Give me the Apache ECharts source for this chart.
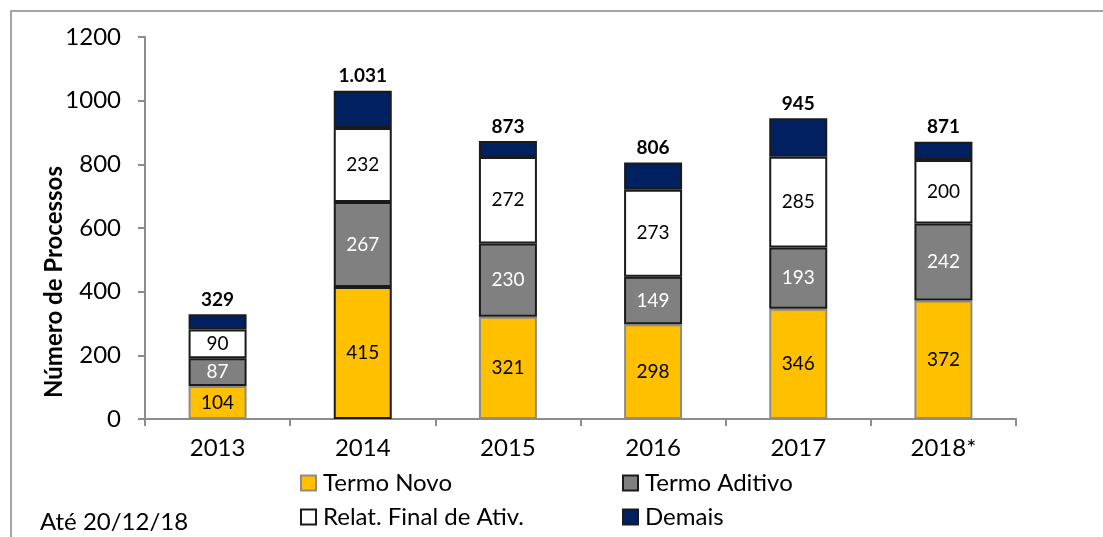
<!DOCTYPE html>
<html>
<head>
<meta charset="utf-8">
<script src="https://cdn.jsdelivr.net/npm/echarts@6/dist/echarts.min.js"></script>
<style>
html,body{margin:0;padding:0;background:#fff;}
#main{width:1103px;height:537px;}
</style>
</head>
<body>
<div id="main"></div>
<script>
var anos = ['2013', '2014', '2015', '2016', '2017', '2018*'];
var termoNovo = [104, 415, 321, 298, 346, 372];
var termoAditivo = [87, 267, 230, 149, 193, 242];
var relatFinal = [90, 232, 272, 273, 285, 200];
var demais = [48, 117, 50, 86, 121, 57];
var totais = [329, 1031, 873, 806, 945, 871];
var yTicks = [0, 200, 400, 600, 800, 1000, 1200];

var fonte = 'Lato';
var corEixo = '#8c8c8c';

//formata com ponto de milhar
function fmtMilhar(v) {
    return String(v).replace(/\B(?=(\d{3})+(?!\d))/g, '.');
}

//borda da barra amarela de 2014 é escura
var novoData = termoNovo.map(function (v, i) {
    return i == 1 ? {value: v, itemStyle: {borderColor: '#1a1a1a'}} : v;
});

var labelDentro = {
    show: true,
    position: 'inside',
    fontFamily: fonte,
    fontSize: 19,
    color: '#000'
};

var myChart = echarts.init(document.getElementById('main'));
var option = {
    animation: false,
    backgroundColor: '#fff',
    grid: {left: 145, right: 87, top: 37, bottom: 118},
    xAxis: {
        type: 'category',
        data: anos,
        axisLine: {lineStyle: {color: corEixo, width: 2}},
        axisTick: {show: true, length: 7, lineStyle: {color: corEixo, width: 2}},
        axisLabel: {fontFamily: fonte, fontSize: 24, color: '#000', margin: 17}
    },
    yAxis: {
        type: 'value',
        min: yTicks[0],
        max: yTicks[yTicks.length - 1],
        interval: 200,
        splitLine: {show: false},
        axisLine: {show: true, lineStyle: {color: corEixo, width: 2}},
        axisTick: {show: true, length: 7, lineStyle: {color: corEixo, width: 2}},
        axisLabel: {
            fontFamily: fonte, fontSize: 24, color: '#000', margin: 24,
            formatter: function (v) { return String(v); }
        }
    },
    legend: [
        {data: ['Termo Novo'], left: 300, top: 471},
        {data: ['Termo Aditivo'], left: 622, top: 471},
        {data: ['Relat. Final de Ativ.'], left: 300, top: 505},
        {data: ['Demais'], left: 622, top: 505}
    ].map(function (l) {
        l.icon = 'rect';
        l.itemWidth = 15;
        l.itemHeight = 15;
        l.itemGap = 0;
        l.padding = 0;
        l.selectedMode = false;
        l.textStyle = {fontFamily: fonte, fontSize: 24, color: '#000', padding: [0, 0, 0, 2]};
        return l;
    }),
    series: [
        {
            name: 'Termo Novo', type: 'bar', stack: 'total', barWidth: 58,
            data: novoData,
            itemStyle: {color: '#FFC000', borderColor: corEixo, borderWidth: 2},
            label: labelDentro
        },
        {
            name: 'Termo Aditivo', type: 'bar', stack: 'total', barWidth: 58,
            data: termoAditivo,
            itemStyle: {color: '#808080', borderColor: '#1a1a1a', borderWidth: 2},
            label: Object.assign({}, labelDentro, {color: '#fff'})
        },
        {
            name: 'Relat. Final de Ativ.', type: 'bar', stack: 'total', barWidth: 58,
            data: relatFinal,
            itemStyle: {color: '#ffffff', borderColor: '#1a1a1a', borderWidth: 2},
            label: labelDentro
        },
        {
            name: 'Demais', type: 'bar', stack: 'total', barWidth: 58,
            data: demais,
            itemStyle: {color: '#002060', borderColor: '#1a1a1a', borderWidth: 2},
            label: {
                show: true,
                position: 'top',
                distance: 5,
                fontFamily: fonte,
                fontSize: 19,
                fontWeight: 'bold',
                color: '#000',
                formatter: function (p) {
                    return fmtMilhar(totais[p.dataIndex]);
                }
            }
        }
    ],
    graphic: [
        {
            type: 'polyline',
            shape: {points: [[11, 600], [11, 11], [1103, 11]]},
            style: {stroke: '#a6a6a6', lineWidth: 2, fill: null},
            silent: true
        },
        {
            type: 'text',
            x: 54, y: 282,
            rotation: Math.PI / 2,
            style: {
                text: 'Número de Processos',
                fontFamily: fonte, fontSize: 24, fontWeight: 'bold', fill: '#000',
                align: 'center', verticalAlign: 'middle'
            }
        },
        {
            type: 'text',
            x: 40, y: 522,
            style: {
                text: 'Até 20/12/18',
                fontFamily: fonte, fontSize: 24, fill: '#000',
                align: 'left', verticalAlign: 'middle'
            }
        }
    ]
};
myChart.setOption(option);
</script>
</body>
</html>
